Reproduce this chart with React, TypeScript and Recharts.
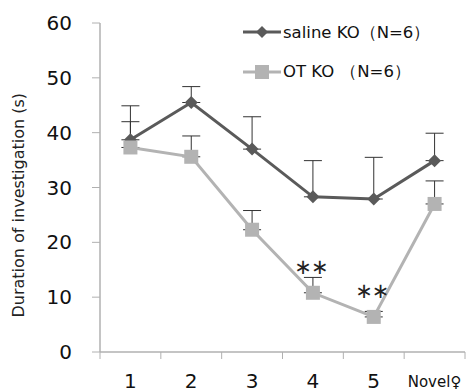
import { LineChart, Line, XAxis, YAxis, ErrorBar, LabelList } from "recharts";

const categories = ["1", "2", "3", "4", "5", "Novel♀"];
const positions = [1, 2, 3, 4, 5, 6];
const salineKO = [38.7, 45.5, 37.0, 28.3, 27.9, 34.9];
const salineErr = [6.2, 2.9, 5.9, 6.6, 7.6, 5.0];
const otKO = [37.3, 35.6, 22.3, 10.8, 6.4, 27.0];
const otErr = [4.7, 3.8, 3.5, 2.8, 1.0, 4.2];
const significance = ["", "", "", "∗∗", "∗∗", ""];
const yTicks = [0, 10, 20, 30, 40, 50, 60];
const boundaryTicks = [0.5, 1.5, 2.5, 3.5, 4.5, 5.5, 6.5];

const data = positions.map((x, i) => ({
  x,
  saline: salineKO[i],
  salineErr: [0, salineErr[i]],
  ot: otKO[i],
  otErr: [0, otErr[i]],
  sig: significance[i],
}));

const DARK = "#5a5a5a";
const LIGHT = "#b3b3b3";
const AXIS = "#b0b0b0";
const FONT = "'DejaVu Sans', Verdana, sans-serif";
const HALF_BAND = 30.4;

const Diamond = (props: any) => {
  const { cx, cy, index } = props;
  return (
    <path
      key={`d-${index}`}
      d={`M${cx},${cy - 6.5} L${cx + 6.5},${cy} L${cx},${cy + 6.5} L${cx - 6.5},${cy} Z`}
      fill={DARK}
    />
  );
};

const Square = (props: any) => {
  const { cx, cy, index } = props;
  return <rect key={`s-${index}`} x={cx - 7} y={cy - 7} width={14} height={14} fill={LIGHT} />;
};

// ticks sit on the category boundaries, labels in the middle of each band
const CategoryTick = (props: any) => {
  const { x, index } = props;
  const label = categories[index];
  if (!label) return null;
  const small = label.length > 2;
  return (
    <text
      x={x + HALF_BAND}
      y={352}
      dy={small ? 35 : 36}
      textAnchor="middle"
      fontFamily={FONT}
      fontSize={small ? 15 : 20}
      fill="#111"
    >
      {label}
    </text>
  );
};

const SigLabel = (props: any) => {
  const { x, y, value } = props;
  if (!value) return null;
  return (
    <text x={x - 2} y={y - 19} textAnchor="middle" fontFamily={FONT} fontSize={21} fill="#222" letterSpacing={-1}>
      {value}
    </text>
  );
};

export default function App() {
  return (
    <div style={{ position: "absolute", left: 0, top: 0, width: 470, height: 392, background: "#fff" }}>
      <LineChart width={470} height={392} data={data} margin={{ top: 23, right: 5, bottom: 0, left: 0 }}>
        <XAxis
          type="number"
          dataKey="x"
          domain={[0.5, 6.5]}
          ticks={boundaryTicks}
          interval={0}
          tickSize={7}
          height={40}
          stroke={AXIS}
          axisLine={{ stroke: AXIS, strokeWidth: 1.5 }}
          tickLine={{ stroke: AXIS }}
          tick={<CategoryTick />}
        />
        <YAxis
          domain={[0, 60]}
          ticks={yTicks}
          width={100}
          tickSize={8}
          tickMargin={20}
          stroke={AXIS}
          axisLine={{ stroke: AXIS, strokeWidth: 1.5 }}
          tickLine={{ stroke: AXIS }}
          tick={{ fill: "#111", fontSize: 20, fontFamily: FONT }}
          label={{
            value: "Duration of investigation (s)",
            angle: -90,
            position: "insideLeft",
            offset: 18,
            dy: 130,
            style: { fill: "#222", fontSize: 16, fontFamily: FONT, textAnchor: "start" },
          }}
        />
        <Line
          dataKey="saline"
          stroke={DARK}
          strokeWidth={3}
          dot={<Diamond />}
          activeDot={false}
          isAnimationActive={false}
        >
          <ErrorBar dataKey="salineErr" direction="y" width={9} stroke="#333" strokeWidth={1} />
        </Line>
        <Line
          dataKey="ot"
          stroke={LIGHT}
          strokeWidth={3}
          dot={<Square />}
          activeDot={false}
          isAnimationActive={false}
        >
          <ErrorBar dataKey="otErr" direction="y" width={9} stroke="#333" strokeWidth={1} />
          <LabelList dataKey="sig" content={<SigLabel />} />
        </Line>
      </LineChart>
      <svg width={470} height={100} style={{ position: "absolute", left: 0, top: 0, pointerEvents: "none" }}>
        <line x1={243} y1={32} x2={281} y2={32} stroke={DARK} strokeWidth={3} />
        <path d="M262,26 L268,32 L262,38 L256,32 Z" fill={DARK} />
        <text x={283} y={38} fontFamily={FONT} fontSize={16.5} fill="#111">
          saline KO（N=6）
        </text>
        <line x1={243} y1={72} x2={281} y2={72} stroke={LIGHT} strokeWidth={3} />
        <rect x={255} y={65} width={14} height={14} fill={LIGHT} />
        <text x={283} y={77} fontFamily={FONT} fontSize={16.5} fill="#111">
          OT KO
          <tspan dx={6}>（N=6）</tspan>
        </text>
      </svg>
    </div>
  );
}
